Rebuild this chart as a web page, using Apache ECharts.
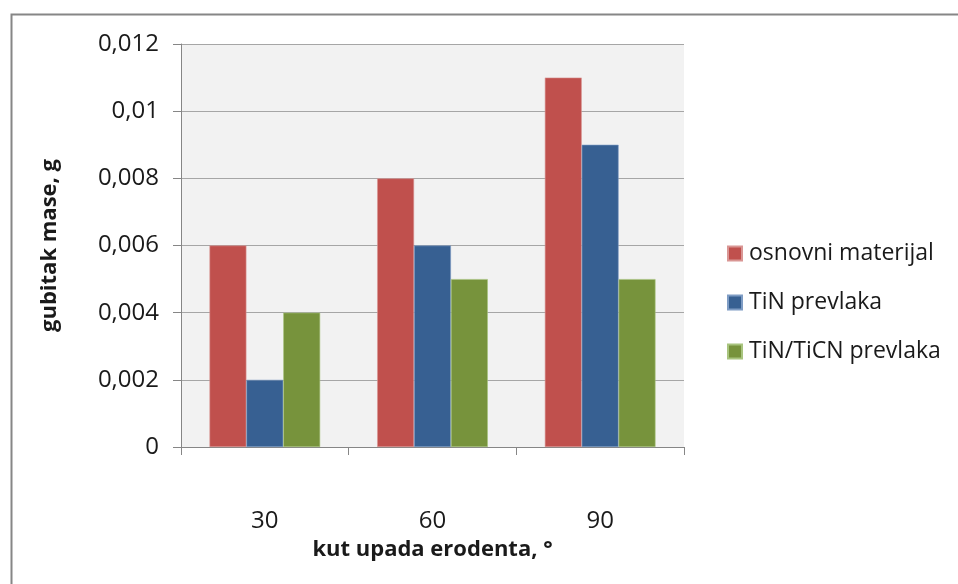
<!DOCTYPE html>
<html>
<head>
<meta charset="utf-8">
<script src="https://cdn.jsdelivr.net/npm/echarts@6/dist/echarts.min.js"></script>
<style>
html,body{margin:0;padding:0;background:#fff;}
#chart{width:958px;height:584px;}
</style>
</head>
<body>
<div id="chart"></div>
<script>
const categories = ['30', '60', '90'];
const osnovniMaterijal = [0.006, 0.008, 0.011];
const tinPrevlaka = [0.002, 0.006, 0.009];
const tinTicnPrevlaka = [0.004, 0.005, 0.005];
const seriesNames = ['osnovni materijal', 'TiN prevlaka', 'TiN/TiCN prevlaka'];
const yTicks = { min: 0, max: 0.012, interval: 0.002 };

const FONT = '"Open Sans", "DejaVu Sans", sans-serif';
const chart = echarts.init(document.getElementById('chart'), null, { renderer: 'canvas' });
const colors = ['#C0504D', '#376092', '#77933C'];
const borders = ['#D99694', '#7E9CC4', '#A8C47E'];
const dataSets = [osnovniMaterijal, tinPrevlaka, tinTicnPrevlaka];

chart.setOption({
  animation: false,
  backgroundColor: '#ffffff',
  textStyle: { fontFamily: FONT },
  graphic: [{
    type: 'rect', left: 9, top: 12, z: -10,
    shape: { width: 1000, height: 700 },
    style: { fill: 'none', stroke: '#868686', lineWidth: 2 }
  }],
  grid: {
    left: 181, top: 44, right: 274, bottom: 137,
    show: true, backgroundColor: '#F2F2F2', borderWidth: 0
  },
  legend: {
    orient: 'vertical', left: 722, top: 237, padding: 5,
    itemWidth: 14, itemHeight: 14, itemGap: 26,
    icon: 'rect',
    textStyle: { fontFamily: FONT, fontSize: 23, color: '#1a1a1a', padding: [0, 0, 0, 2] },
    data: seriesNames
  },
  xAxis: {
    type: 'category', data: categories,
    name: 'kut upada erodenta, °', nameLocation: 'middle', nameGap: 92,
    nameTextStyle: { fontFamily: FONT, fontSize: 22, fontWeight: 'bold', color: '#1a1a1a' },
    axisLine: { show: true, lineStyle: { color: '#868686', width: 1 } },
    axisTick: { show: true, length: 8, alignWithLabel: false, lineStyle: { color: '#868686' } },
    axisLabel: { margin: 62, fontFamily: FONT, fontSize: 24, color: '#1a1a1a' },
    splitLine: { show: false }
  },
  yAxis: {
    type: 'value', min: yTicks.min, max: yTicks.max, interval: yTicks.interval,
    name: 'gubitak mase, g', nameLocation: 'middle', nameGap: 120, nameRotate: 90,
    nameTextStyle: { fontFamily: FONT, fontSize: 22, fontWeight: 'bold', color: '#1a1a1a' },
    axisLine: { show: true, lineStyle: { color: '#868686', width: 1 } },
    axisTick: { show: true, length: 8, lineStyle: { color: '#868686' } },
    axisLabel: {
      margin: 22, fontFamily: FONT, fontSize: 24, color: '#1a1a1a',
      formatter: v => String(Math.round(v * 1000) / 1000).replace('.', ',')
    },
    splitLine: { show: true, lineStyle: { color: '#A6A6A6', width: 1 } }
  },
  series: dataSets.map((d, i) => ({
    name: seriesNames[i], type: 'bar', data: d,
    barGap: '0%', barCategoryGap: '34%',
    itemStyle: { color: colors[i], borderColor: borders[i], borderWidth: 0.6 }
  }))
});
</script>
</body>
</html>
